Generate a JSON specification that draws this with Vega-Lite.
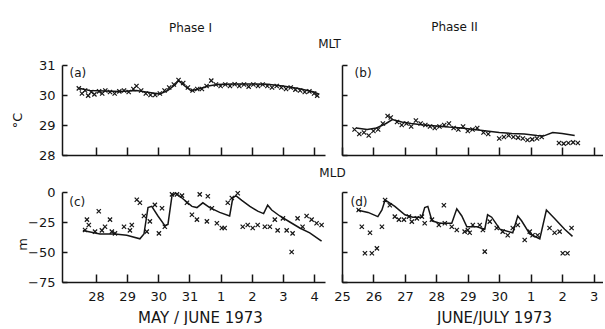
{
  "$schema": "https://vega.github.io/schema/vega-lite/v6.json",
  "background": "white",
  "padding": {"left": 11, "top": 21, "right": 0, "bottom": 0},
  "config": {
    "view": {"stroke": null},
    "font": "DejaVu Sans",
    "axis": {"grid": false, "tickCount": 20, "labelOverlap": false, "labelFlush": false, "domainColor": "#151515", "domainWidth": 1.5, "tickColor": "#151515", "tickWidth": 1.5, "labelColor": "#151515", "labelFontSize": 13, "titleColor": "#151515", "titleFontWeight": "normal", "titleFontSize": 13},
    "title": {"fontSize": 12, "fontWeight": "normal", "color": "#151515"}
  },
  "datasets": {
    "a_line": [
      {"t": -0.51, "v": 30.22}, {"t": -0.2, "v": 30.15}, {"t": 0.3, "v": 30.13}, {"t": 0.8, "v": 30.12}, {"t": 1.3, "v": 30.15}, {"t": 1.6, "v": 30.1}, {"t": 2.05, "v": 30.03}, {"t": 2.3, "v": 30.15}, {"t": 2.55, "v": 30.35}, {"t": 2.65, "v": 30.48}, {"t": 2.85, "v": 30.3}, {"t": 3.05, "v": 30.14}, {"t": 3.3, "v": 30.2}, {"t": 3.6, "v": 30.3}, {"t": 3.9, "v": 30.35}, {"t": 4.4, "v": 30.37}, {"t": 5.0, "v": 30.37}, {"t": 5.5, "v": 30.36}, {"t": 6.0, "v": 30.3}, {"t": 6.5, "v": 30.22}, {"t": 7.0, "v": 30.1}, {"t": 7.15, "v": 30.03}
    ],
    "a_pts": [
      {"t": -0.55, "v": 30.22}, {"t": -0.45, "v": 30.05}, {"t": -0.35, "v": 30.15}, {"t": -0.25, "v": 29.98}, {"t": -0.15, "v": 30.1}, {"t": -0.05, "v": 30.02}, {"t": 0.1, "v": 30.12}, {"t": 0.2, "v": 30.05}, {"t": 0.3, "v": 30.15}, {"t": 0.45, "v": 30.1}, {"t": 0.6, "v": 30.05}, {"t": 0.75, "v": 30.12}, {"t": 0.9, "v": 30.15}, {"t": 1.05, "v": 30.1}, {"t": 1.2, "v": 30.2}, {"t": 1.3, "v": 30.3}, {"t": 1.45, "v": 30.15}, {"t": 1.6, "v": 30.05}, {"t": 1.75, "v": 30.0}, {"t": 1.9, "v": 30.0}, {"t": 2.05, "v": 30.05}, {"t": 2.2, "v": 30.15}, {"t": 2.35, "v": 30.25}, {"t": 2.5, "v": 30.35}, {"t": 2.65, "v": 30.5}, {"t": 2.8, "v": 30.4}, {"t": 2.95, "v": 30.25}, {"t": 3.1, "v": 30.15}, {"t": 3.25, "v": 30.2}, {"t": 3.4, "v": 30.2}, {"t": 3.55, "v": 30.3}, {"t": 3.7, "v": 30.48}, {"t": 3.85, "v": 30.35}, {"t": 4.0, "v": 30.3}, {"t": 4.15, "v": 30.35}, {"t": 4.3, "v": 30.3}, {"t": 4.45, "v": 30.36}, {"t": 4.6, "v": 30.3}, {"t": 4.75, "v": 30.35}, {"t": 4.9, "v": 30.28}, {"t": 5.05, "v": 30.35}, {"t": 5.2, "v": 30.3}, {"t": 5.35, "v": 30.35}, {"t": 5.5, "v": 30.3}, {"t": 5.65, "v": 30.25}, {"t": 5.8, "v": 30.3}, {"t": 5.95, "v": 30.25}, {"t": 6.1, "v": 30.2}, {"t": 6.25, "v": 30.25}, {"t": 6.4, "v": 30.18}, {"t": 6.55, "v": 30.15}, {"t": 6.7, "v": 30.1}, {"t": 6.85, "v": 30.12}, {"t": 7.0, "v": 30.05}, {"t": 7.1, "v": 29.98}
    ],
    "b_line": [
      {"t": 0.45, "v": 28.9}, {"t": 0.8, "v": 28.85}, {"t": 1.1, "v": 28.9}, {"t": 1.4, "v": 29.05}, {"t": 1.6, "v": 29.18}, {"t": 1.9, "v": 29.1}, {"t": 2.2, "v": 29.05}, {"t": 2.6, "v": 29.0}, {"t": 3.0, "v": 28.97}, {"t": 3.4, "v": 28.93}, {"t": 3.8, "v": 28.9}, {"t": 4.2, "v": 28.85}, {"t": 4.6, "v": 28.8}, {"t": 5.0, "v": 28.75}, {"t": 5.4, "v": 28.72}, {"t": 5.8, "v": 28.7}, {"t": 6.2, "v": 28.65}, {"t": 6.4, "v": 28.63}, {"t": 6.7, "v": 28.75}, {"t": 7.0, "v": 28.72}, {"t": 7.4, "v": 28.65}
    ],
    "b_pts": [
      {"t": 0.4, "v": 28.85}, {"t": 0.55, "v": 28.7}, {"t": 0.7, "v": 28.75}, {"t": 0.85, "v": 28.65}, {"t": 1.0, "v": 28.8}, {"t": 1.15, "v": 28.85}, {"t": 1.3, "v": 29.05}, {"t": 1.45, "v": 29.3}, {"t": 1.55, "v": 29.25}, {"t": 1.75, "v": 29.1}, {"t": 1.9, "v": 29.0}, {"t": 2.05, "v": 29.05}, {"t": 2.2, "v": 28.95}, {"t": 2.35, "v": 29.15}, {"t": 2.5, "v": 29.05}, {"t": 2.65, "v": 29.0}, {"t": 2.8, "v": 28.95}, {"t": 2.95, "v": 28.9}, {"t": 3.1, "v": 28.95}, {"t": 3.25, "v": 29.0}, {"t": 3.4, "v": 29.05}, {"t": 3.55, "v": 28.9}, {"t": 3.7, "v": 28.85}, {"t": 3.85, "v": 28.95}, {"t": 4.0, "v": 28.8}, {"t": 4.15, "v": 28.85}, {"t": 4.3, "v": 28.9}, {"t": 4.5, "v": 28.75}, {"t": 4.65, "v": 28.7}, {"t": 5.0, "v": 28.55}, {"t": 5.15, "v": 28.6}, {"t": 5.3, "v": 28.65}, {"t": 5.45, "v": 28.6}, {"t": 5.6, "v": 28.58}, {"t": 5.75, "v": 28.55}, {"t": 5.9, "v": 28.5}, {"t": 6.05, "v": 28.52}, {"t": 6.2, "v": 28.55}, {"t": 6.35, "v": 28.6}, {"t": 6.9, "v": 28.4}, {"t": 7.05, "v": 28.38}, {"t": 7.2, "v": 28.4}, {"t": 7.35, "v": 28.42}, {"t": 7.5, "v": 28.4}
    ],
    "c_line": [
      {"t": -0.42, "v": -32}, {"t": 0.13, "v": -35}, {"t": 0.61, "v": -35}, {"t": 0.99, "v": -36}, {"t": 1.41, "v": -39}, {"t": 1.54, "v": -35}, {"t": 1.67, "v": -13}, {"t": 1.79, "v": -12}, {"t": 1.99, "v": -20}, {"t": 2.21, "v": -28}, {"t": 2.31, "v": -27}, {"t": 2.44, "v": -3}, {"t": 2.56, "v": -1}, {"t": 2.76, "v": -5}, {"t": 3.08, "v": -12}, {"t": 3.24, "v": -13}, {"t": 3.43, "v": -9}, {"t": 3.65, "v": -13}, {"t": 3.97, "v": -17}, {"t": 4.29, "v": -20}, {"t": 4.39, "v": -5}, {"t": 4.49, "v": -3}, {"t": 4.68, "v": -7}, {"t": 4.94, "v": -12}, {"t": 5.19, "v": -16}, {"t": 5.38, "v": -18}, {"t": 5.51, "v": -11}, {"t": 5.64, "v": -15}, {"t": 5.9, "v": -20}, {"t": 6.22, "v": -25}, {"t": 6.54, "v": -30}, {"t": 6.86, "v": -34}, {"t": 7.24, "v": -41}
    ],
    "c_pts": [
      {"t": -0.35, "v": -31.7}, {"t": -0.29, "v": -23}, {"t": -0.23, "v": -27.5}, {"t": -0.03, "v": -33}, {"t": 0.09, "v": -16}, {"t": 0.19, "v": -32}, {"t": 0.29, "v": -29}, {"t": 0.45, "v": -23}, {"t": 0.51, "v": -33}, {"t": 0.61, "v": -34.5}, {"t": 0.9, "v": -29}, {"t": 1.09, "v": -32}, {"t": 1.15, "v": -27.5}, {"t": 1.31, "v": -6.5}, {"t": 1.41, "v": -9}, {"t": 1.54, "v": -20}, {"t": 1.63, "v": -33}, {"t": 1.73, "v": -24.5}, {"t": 1.89, "v": -10.7}, {"t": 2.02, "v": -34.5}, {"t": 2.12, "v": -13.5}, {"t": 2.21, "v": -29}, {"t": 2.44, "v": -2}, {"t": 2.6, "v": -2}, {"t": 2.76, "v": -3}, {"t": 2.92, "v": -9}, {"t": 3.08, "v": -19}, {"t": 3.24, "v": -23}, {"t": 3.33, "v": -2}, {"t": 3.56, "v": -24.5}, {"t": 3.59, "v": -3.5}, {"t": 3.72, "v": -13.5}, {"t": 3.88, "v": -26}, {"t": 4.04, "v": -30}, {"t": 4.13, "v": -30}, {"t": 4.23, "v": -9}, {"t": 4.36, "v": -5}, {"t": 4.55, "v": -1}, {"t": 4.71, "v": -29}, {"t": 4.87, "v": -27.5}, {"t": 5.03, "v": -30}, {"t": 5.19, "v": -27.5}, {"t": 5.42, "v": -29}, {"t": 5.58, "v": -29}, {"t": 5.74, "v": -23}, {"t": 5.83, "v": -32}, {"t": 6.0, "v": -22}, {"t": 6.12, "v": -32}, {"t": 6.28, "v": -50}, {"t": 6.31, "v": -34.5}, {"t": 6.47, "v": -22}, {"t": 6.63, "v": -29}, {"t": 6.76, "v": -20}, {"t": 6.92, "v": -23}, {"t": 7.08, "v": -26}, {"t": 7.24, "v": -27.5}
    ],
    "d_line": [
      {"t": 0.48, "v": -15}, {"t": 0.83, "v": -17}, {"t": 1.14, "v": -20.5}, {"t": 1.27, "v": -15}, {"t": 1.37, "v": -6.7}, {"t": 1.68, "v": -12}, {"t": 2.0, "v": -19}, {"t": 2.25, "v": -21}, {"t": 2.54, "v": -21}, {"t": 2.63, "v": -13}, {"t": 2.73, "v": -12}, {"t": 2.86, "v": -24}, {"t": 3.11, "v": -26}, {"t": 3.49, "v": -26}, {"t": 3.65, "v": -14}, {"t": 3.81, "v": -20}, {"t": 3.97, "v": -29}, {"t": 4.29, "v": -29}, {"t": 4.54, "v": -31}, {"t": 4.63, "v": -19}, {"t": 4.76, "v": -21}, {"t": 5.02, "v": -31}, {"t": 5.43, "v": -34}, {"t": 5.59, "v": -20}, {"t": 5.71, "v": -24}, {"t": 5.97, "v": -35}, {"t": 6.29, "v": -39}, {"t": 6.5, "v": -15}, {"t": 6.76, "v": -22}, {"t": 7.08, "v": -31}, {"t": 7.33, "v": -37}
    ],
    "d_pts": [
      {"t": 0.53, "v": -15}, {"t": 0.63, "v": -29}, {"t": 0.73, "v": -51}, {"t": 0.89, "v": -34}, {"t": 0.95, "v": -51}, {"t": 1.11, "v": -47}, {"t": 1.27, "v": -29}, {"t": 1.37, "v": -6.7}, {"t": 1.52, "v": -11}, {"t": 1.68, "v": -20.5}, {"t": 1.81, "v": -23}, {"t": 1.97, "v": -23}, {"t": 2.13, "v": -20.5}, {"t": 2.22, "v": -24.7}, {"t": 2.38, "v": -22}, {"t": 2.54, "v": -20.5}, {"t": 2.63, "v": -26}, {"t": 2.86, "v": -23}, {"t": 3.08, "v": -27.5}, {"t": 3.24, "v": -11}, {"t": 3.27, "v": -26}, {"t": 3.49, "v": -29}, {"t": 3.65, "v": -31.7}, {"t": 3.9, "v": -33}, {"t": 4.0, "v": -31.7}, {"t": 4.06, "v": -34}, {"t": 4.16, "v": -27.5}, {"t": 4.38, "v": -27.5}, {"t": 4.48, "v": -31.7}, {"t": 4.54, "v": -49.7}, {"t": 4.7, "v": -24.7}, {"t": 4.92, "v": -30}, {"t": 5.11, "v": -33}, {"t": 5.27, "v": -36}, {"t": 5.43, "v": -30}, {"t": 5.59, "v": -27.5}, {"t": 5.81, "v": -40}, {"t": 5.97, "v": -33}, {"t": 6.06, "v": -36}, {"t": 6.22, "v": -36}, {"t": 6.6, "v": -30}, {"t": 6.76, "v": -34}, {"t": 6.92, "v": -33}, {"t": 7.02, "v": -51}, {"t": 7.17, "v": -51}, {"t": 7.3, "v": -30}
    ]
  },
  "columns": 2,
  "bounds": "flush",
  "spacing": {"row": 37, "column": 17},
  "concat": [
    {
      "width": 263, "height": 90,
      "title": {"text": "Phase I", "frame": "group", "anchor": "middle", "baseline": "middle", "offset": 19, "dx": -3},
      "layer": [
        {"data": {"name": "a_line"}, "mark": {"type": "line", "color": "#151515", "strokeWidth": 1.5},
         "encoding": {
           "x": {"field": "t", "type": "quantitative", "scale": {"domain": [-1.09, 7.35], "nice": false, "zero": false},
                 "axis": {"values": [0, 1, 2, 3, 4, 5, 6, 7], "tickCount": 20, "labels": false, "tickSize": -8, "title": null}},
           "y": {"field": "v", "type": "quantitative", "scale": {"domain": [28, 31], "nice": false, "zero": false},
                 "axis": {"values": [28, 29, 30, 31], "tickCount": 20, "format": "d", "tickSize": -5, "labelPadding": 12, "title": "°C", "titleAngle": -90, "titleX": -45, "titleY": 55, "titleAlign": "center", "titleBaseline": "middle"}}
         }},
        {"data": {"name": "a_pts"}, "mark": {"type": "point", "shape": "M-1,-1L1,1M-1,1L1,-1", "filled": false, "color": "#151515", "strokeWidth": 1.2, "size": 18, "opacity": 1},
         "encoding": {"x": {"field": "t", "type": "quantitative"}, "y": {"field": "v", "type": "quantitative"}}},
        {"data": {"values": [{}]}, "mark": {"type": "text", "fontSize": 12, "color": "#151515"},
         "encoding": {"x": {"datum": -0.58}, "y": {"datum": 30.75}, "text": {"value": "(a)"}}}
      ]
    },
    {
      "width": 261, "height": 90,
      "title": {"text": "Phase II", "frame": "group", "anchor": "middle", "baseline": "middle", "offset": -2, "dx": -18},
      "layer": [
        {"data": {"name": "b_line"}, "mark": {"type": "line", "color": "#151515", "strokeWidth": 1.5},
         "encoding": {
           "x": {"field": "t", "type": "quantitative", "scale": {"domain": [0, 8.3], "nice": false, "zero": false},
                 "axis": {"values": [0, 1, 2, 3, 4, 5, 6, 7, 8], "tickCount": 20, "labels": false, "tickSize": -8, "title": null}},
           "y": {"field": "v", "type": "quantitative", "scale": {"domain": [28, 31], "nice": false, "zero": false},
                 "axis": {"values": [28, 29, 30, 31], "tickCount": 20, "tickSize": -5, "labels": false, "title": "MLT", "titleAngle": 0, "titleX": -13, "titleY": -22, "titleAlign": "center", "titleBaseline": "middle", "titleFontSize": 12}}
         }},
        {"data": {"name": "b_pts"}, "mark": {"type": "point", "shape": "M-1,-1L1,1M-1,1L1,-1", "filled": false, "color": "#151515", "strokeWidth": 1.2, "size": 18, "opacity": 1},
         "encoding": {"x": {"field": "t", "type": "quantitative"}, "y": {"field": "v", "type": "quantitative"}}},
        {"data": {"values": [{}]}, "mark": {"type": "text", "fontSize": 12, "color": "#151515"},
         "encoding": {"x": {"datum": 0.67}, "y": {"datum": 30.75}, "text": {"value": "(b)"}}}
      ]
    },
    {
      "width": 263, "height": 90,
      "layer": [
        {"data": {"name": "c_line"}, "mark": {"type": "line", "color": "#151515", "strokeWidth": 1.5},
         "encoding": {
           "x": {"field": "t", "type": "quantitative", "scale": {"domain": [-1.09, 7.35], "nice": false, "zero": false},
                 "axis": {"values": [0, 1, 2, 3, 4, 5, 6, 7], "tickCount": 20, "tickSize": -8, "labelPadding": 16, "labelExpr": "['28','29','30','31','1','2','3','4'][datum.value]", "title": "MAY / JUNE 1973", "titleX": 138, "titleY": 35, "titleAlign": "center", "titleBaseline": "middle", "titleFontSize": 15}},
           "y": {"field": "v", "type": "quantitative", "scale": {"domain": [-75, 0], "nice": false, "zero": false},
                 "axis": {"values": [-75, -50, -25, 0], "tickCount": 20, "format": "d", "tickSize": -5, "labelPadding": 12, "title": "m", "titleAngle": -90, "titleX": -40, "titleY": 52, "titleAlign": "center", "titleBaseline": "middle"}}
         }},
        {"data": {"name": "c_pts"}, "mark": {"type": "point", "shape": "M-1,-1L1,1M-1,1L1,-1", "filled": false, "color": "#151515", "strokeWidth": 1.2, "size": 18, "opacity": 1},
         "encoding": {"x": {"field": "t", "type": "quantitative"}, "y": {"field": "v", "type": "quantitative"}}},
        {"data": {"values": [{}]}, "mark": {"type": "text", "fontSize": 12, "color": "#151515"},
         "encoding": {"x": {"datum": -0.6}, "y": {"datum": -8.5}, "text": {"value": "(c)"}}}
      ]
    },
    {
      "width": 261, "height": 90,
      "layer": [
        {"data": {"name": "d_line"}, "mark": {"type": "line", "color": "#151515", "strokeWidth": 1.5},
         "encoding": {
           "x": {"field": "t", "type": "quantitative", "scale": {"domain": [0, 8.3], "nice": false, "zero": false},
                 "axis": {"values": [0, 1, 2, 3, 4, 5, 6, 7, 8], "tickCount": 20, "tickSize": -8, "labelPadding": 16, "labelExpr": "['25','26','27','28','29','30','1','2','3'][datum.value]", "title": "JUNE/JULY 1973", "titleX": 152, "titleY": 35, "titleAlign": "center", "titleBaseline": "middle", "titleFontSize": 15}},
           "y": {"field": "v", "type": "quantitative", "scale": {"domain": [-75, 0], "nice": false, "zero": false},
                 "axis": {"values": [-75, -50, -25, 0], "tickCount": 20, "tickSize": -5, "labels": false, "title": "MLD", "titleAngle": 0, "titleX": -10, "titleY": -20, "titleAlign": "center", "titleBaseline": "middle", "titleFontSize": 12}}
         }},
        {"data": {"name": "d_pts"}, "mark": {"type": "point", "shape": "M-1,-1L1,1M-1,1L1,-1", "filled": false, "color": "#151515", "strokeWidth": 1.2, "size": 18, "opacity": 1},
         "encoding": {"x": {"field": "t", "type": "quantitative"}, "y": {"field": "v", "type": "quantitative"}}},
        {"data": {"values": [{}]}, "mark": {"type": "text", "fontSize": 12, "color": "#151515"},
         "encoding": {"x": {"datum": 0.54}, "y": {"datum": -8}, "text": {"value": "(d)"}}}
      ]
    }
  ]
}
